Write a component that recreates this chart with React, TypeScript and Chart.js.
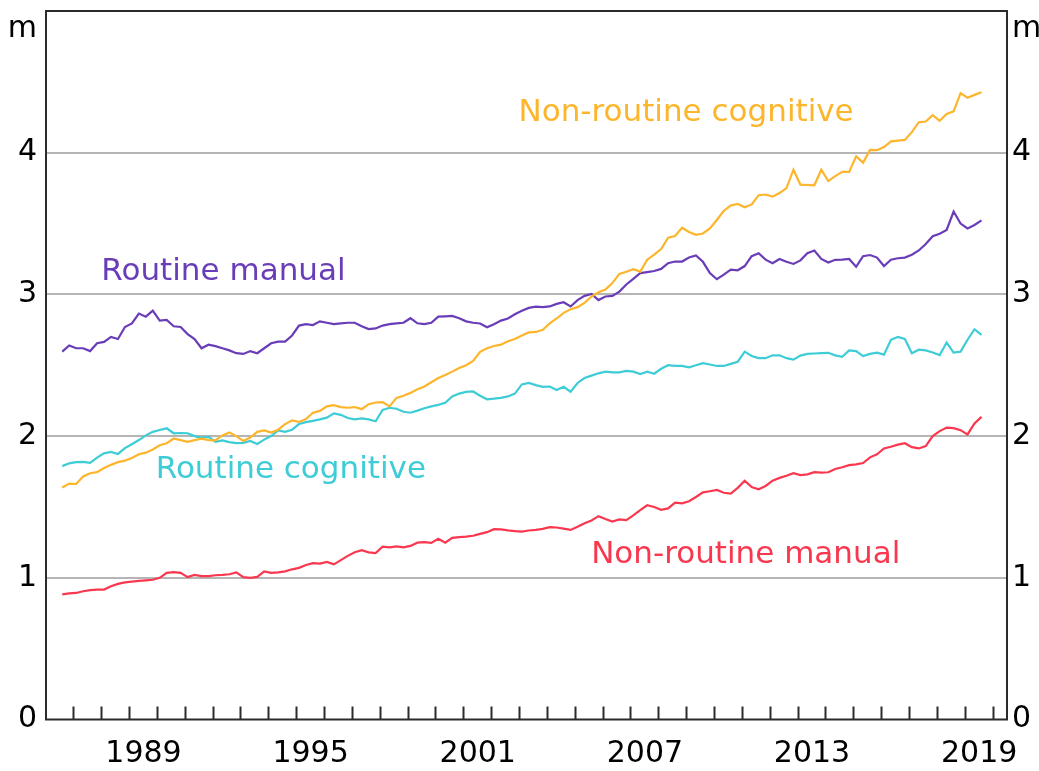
import React, { useEffect, useRef } from 'react';
import { Chart, registerables } from 'chart.js';

Chart.register(...registerables);

// Quarterly observations, first one in August 1986
const FIRST_YEAR = 1986;
const FIRST_MONTH = 8;

// Employment, millions
const nonRoutineCognitive = [
  1.637, 1.665, 1.662, 1.715, 1.738, 1.746, 1.775, 1.797, 1.816, 1.827,
  1.845, 1.872, 1.883, 1.905, 1.935, 1.95, 1.983, 1.972, 1.96, 1.972,
  1.982, 1.972, 1.97, 2.005, 2.025, 2.0, 1.965, 1.99, 2.03, 2.04,
  2.025, 2.045, 2.085, 2.11, 2.1, 2.12, 2.165, 2.178, 2.21, 2.218,
  2.205, 2.2, 2.205, 2.19, 2.225, 2.237, 2.24, 2.21, 2.27, 2.285,
  2.305, 2.33, 2.35, 2.38, 2.41, 2.432, 2.455, 2.48, 2.5, 2.53,
  2.595, 2.62, 2.636, 2.645, 2.67, 2.685, 2.71, 2.732, 2.735, 2.75,
  2.795, 2.83, 2.87, 2.895, 2.91, 2.94, 2.985, 3.015, 3.035, 3.08,
  3.145, 3.16, 3.178, 3.161, 3.245, 3.28, 3.32, 3.4, 3.412, 3.47,
  3.44, 3.42, 3.43, 3.465, 3.525, 3.59, 3.628, 3.638, 3.615, 3.635,
  3.7, 3.705, 3.69, 3.715, 3.75, 3.88, 3.775, 3.772, 3.77, 3.88,
  3.8, 3.835, 3.865, 3.865, 3.975, 3.93, 4.02, 4.018, 4.04, 4.08,
  4.085, 4.09, 4.145, 4.215, 4.22, 4.265, 4.225, 4.274, 4.292, 4.42,
  4.388, 4.408, 4.426,
];

const routineManual = [
  2.596, 2.64, 2.62, 2.62, 2.6, 2.655, 2.665, 2.7, 2.685, 2.77,
  2.795, 2.865, 2.843, 2.885, 2.815, 2.82, 2.775, 2.77, 2.72, 2.685,
  2.62, 2.645, 2.635, 2.62, 2.605, 2.585, 2.58, 2.6, 2.585, 2.62,
  2.655, 2.667, 2.667, 2.71, 2.78, 2.79, 2.784, 2.81, 2.8, 2.79,
  2.795, 2.8, 2.8, 2.775, 2.755, 2.76, 2.78, 2.79, 2.796, 2.8,
  2.832, 2.796, 2.79, 2.8, 2.843, 2.845, 2.848, 2.832, 2.81, 2.8,
  2.795, 2.768, 2.79, 2.815, 2.83, 2.86, 2.885, 2.905, 2.914, 2.91,
  2.915, 2.933, 2.945, 2.915, 2.96, 2.99, 3.003, 2.96, 2.985, 2.99,
  3.02, 3.07, 3.11, 3.15, 3.157, 3.165, 3.18, 3.22, 3.232, 3.232,
  3.26, 3.275, 3.23, 3.15, 3.107, 3.14, 3.175, 3.17, 3.2, 3.27,
  3.29, 3.245, 3.22, 3.25, 3.23, 3.215, 3.24, 3.29, 3.31, 3.25,
  3.225, 3.244, 3.245, 3.25, 3.195, 3.27, 3.278, 3.26, 3.2, 3.245,
  3.255, 3.26, 3.28, 3.31, 3.355, 3.41, 3.428, 3.455, 3.585, 3.5,
  3.465, 3.49, 3.522,
];

const routineCognitive = [
  1.788, 1.808, 1.816, 1.818, 1.811, 1.848, 1.878, 1.889, 1.874, 1.915,
  1.943, 1.972, 2.005, 2.03, 2.043, 2.055, 2.02, 2.022, 2.02, 2.0,
  1.99, 1.995, 1.96, 1.97, 1.958, 1.95, 1.952, 1.966, 1.945, 1.975,
  2.0, 2.04, 2.03, 2.045, 2.085, 2.099, 2.108, 2.118, 2.13, 2.16,
  2.15, 2.128, 2.118, 2.125, 2.118, 2.105, 2.185, 2.2, 2.193, 2.172,
  2.165, 2.18, 2.197, 2.21, 2.22, 2.235, 2.28, 2.3, 2.312, 2.315,
  2.285, 2.26, 2.264, 2.27, 2.28, 2.3, 2.365, 2.375, 2.36, 2.347,
  2.35, 2.325, 2.348, 2.313, 2.375, 2.41, 2.427, 2.443, 2.455, 2.45,
  2.45, 2.46, 2.455, 2.438, 2.454, 2.44, 2.475, 2.5, 2.495, 2.495,
  2.485, 2.5, 2.515, 2.505, 2.495, 2.495, 2.51, 2.525, 2.596, 2.565,
  2.55, 2.55, 2.57, 2.57, 2.55, 2.54, 2.568, 2.58, 2.583, 2.585,
  2.588, 2.57, 2.56, 2.605, 2.6, 2.565, 2.58, 2.589, 2.575, 2.68,
  2.7, 2.685, 2.584, 2.61, 2.605, 2.59, 2.572, 2.66, 2.589, 2.596,
  2.68, 2.754, 2.714,
];

const nonRoutineManual = [
  0.883, 0.89, 0.893, 0.905, 0.913, 0.917, 0.917, 0.94, 0.957, 0.968,
  0.973, 0.978, 0.982, 0.986, 1.0, 1.035, 1.04, 1.035, 1.005, 1.02,
  1.012, 1.012, 1.018, 1.02, 1.025, 1.038, 1.005, 1.0, 1.006, 1.045,
  1.035, 1.038, 1.045, 1.06, 1.07, 1.09, 1.103, 1.1, 1.112, 1.095,
  1.125, 1.155, 1.18, 1.195, 1.18, 1.175, 1.22, 1.215, 1.222, 1.215,
  1.225, 1.248, 1.252, 1.246, 1.275, 1.248, 1.282, 1.287, 1.29, 1.297,
  1.31, 1.322, 1.343, 1.342, 1.335, 1.33, 1.326, 1.334, 1.338, 1.345,
  1.358, 1.355, 1.347, 1.338, 1.36, 1.385, 1.405, 1.435, 1.415, 1.397,
  1.412, 1.407, 1.44, 1.477, 1.512, 1.5, 1.48, 1.49, 1.53, 1.525,
  1.54, 1.57, 1.603, 1.611, 1.62, 1.6, 1.595, 1.635, 1.685, 1.64,
  1.625, 1.648, 1.685, 1.705, 1.72, 1.738, 1.725, 1.73, 1.745, 1.742,
  1.745, 1.768, 1.78, 1.795, 1.8, 1.81, 1.85, 1.872, 1.913, 1.925,
  1.94, 1.95, 1.922, 1.913, 1.93, 2.0, 2.035, 2.06, 2.056, 2.042,
  2.012, 2.09, 2.136,
];

// Dates (decimal years) for each quarterly observation
const quarterDates = nonRoutineCognitive.map(
  (_, i) => FIRST_YEAR + (FIRST_MONTH - 1) / 12 + i / 4
);

// x axis: tick marks at year boundaries, labels centred on the year
const X_MIN = 1986;
const X_MAX = 2020.5;
const yearTickMarks = [
  1987, 1988, 1989, 1990, 1991, 1992, 1993, 1994, 1995, 1996, 1997, 1998,
  1999, 2000, 2001, 2002, 2003, 2004, 2005, 2006, 2007, 2008, 2009, 2010,
  2011, 2012, 2013, 2014, 2015, 2016, 2017, 2018, 2019, 2020,
];
const yearLabels = [1989, 1995, 2001, 2007, 2013, 2019];

// y axis
const Y_MIN = 0;
const Y_MAX = 5;
const yTickValues = [0, 1, 2, 3, 4, 5];
const unitLabel = 'm';

const seriesNames = [
  'Non-routine cognitive',
  'Routine manual',
  'Routine cognitive',
  'Non-routine manual',
];
const seriesValues = [nonRoutineCognitive, routineManual, routineCognitive, nonRoutineManual];
const seriesColors = ['#FDB52B', '#6A3DB8', '#3ECCD6', '#F9384F'];
// where each series name sits, in data units (year, millions)
const labelAnchorYears = [2008.98, 1992.37, 1994.79, 2011.12];
const labelAnchorValues = [4.28, 3.16, 1.76, 1.16];

const FONT_FAMILY = '"DejaVu Sans", Verdana, sans-serif';

const isYearBoundary = (v: number) => Math.abs(v - Math.round(v)) < 1e-6;

const frameAndLabels = {
  id: 'frameAndLabels',
  afterDatasetsDraw(chart: any) {
    const { ctx, chartArea, scales } = chart;
    ctx.save();
    ctx.strokeStyle = '#2b2b2b';
    ctx.lineWidth = 2;
    ctx.strokeRect(
      chartArea.left,
      chartArea.top,
      chartArea.right - chartArea.left,
      chartArea.bottom - chartArea.top
    );
    ctx.font = `31px ${FONT_FAMILY}`;
    ctx.textAlign = 'center';
    ctx.textBaseline = 'middle';
    seriesNames.forEach((name, i) => {
      ctx.fillStyle = seriesColors[i];
      ctx.fillText(
        name,
        scales.x.getPixelForValue(labelAnchorYears[i]),
        scales.y.getPixelForValue(labelAnchorValues[i])
      );
    });
    ctx.restore();
  },
};

export default function App() {
  const canvasRef = useRef<HTMLCanvasElement | null>(null);

  useEffect(() => {
    const canvas = canvasRef.current;
    if (!canvas) return;

    const datasets = seriesNames.map((name, i) => ({
      label: name,
      data: seriesValues[i].map((v, j) => ({ x: quarterDates[j], y: v })),
      borderColor: seriesColors[i],
      backgroundColor: seriesColors[i],
      borderWidth: 2.2,
      pointRadius: 0,
      tension: 0,
      fill: false,
    }));

    const chart = new Chart(canvas, {
      type: 'line',
      data: { datasets },
      plugins: [frameAndLabels],
      options: {
        responsive: false,
        animation: false,
        devicePixelRatio: 1,
        layout: { padding: { top: 11, left: 0, right: 0, bottom: 0 } },
        plugins: {
          legend: { display: false },
          title: { display: false },
          tooltip: { enabled: false },
        },
        scales: {
          x: {
            type: 'linear',
            position: 'bottom',
            min: X_MIN,
            max: X_MAX,
            afterBuildTicks: (scale: any) => {
              const vals = [...yearTickMarks, ...yearLabels.map((y) => y + 0.5)].sort(
                (a, b) => a - b
              );
              scale.ticks = vals.map((v) => ({ value: v }));
            },
            afterFit: (scale: any) => {
              scale.height = 51.5;
              scale.paddingLeft = 0;
              scale.paddingRight = 0;
            },
            ticks: {
              autoSkip: false,
              maxRotation: 0,
              minRotation: 0,
              padding: 30,
              color: '#000',
              font: { family: FONT_FAMILY, size: 30 },
              callback: (value: any) =>
                isYearBoundary(Number(value)) ? '' : String(Math.floor(Number(value))),
            },
            grid: {
              drawOnChartArea: false,
              drawTicks: true,
              tickLength: -13,
              tickWidth: 2,
              color: '#2b2b2b',
              tickColor: (ctx: any) =>
                ctx.tick && isYearBoundary(ctx.tick.value) ? '#2b2b2b' : 'rgba(0,0,0,0)',
            },
            border: { display: false },
          },
          y: {
            type: 'linear',
            position: 'left',
            min: Y_MIN,
            max: Y_MAX,
            afterBuildTicks: (scale: any) => {
              scale.ticks = yTickValues.map((v) => ({ value: v }));
            },
            afterFit: (scale: any) => {
              scale.width = 46;
              scale.paddingTop = 0;
              scale.paddingBottom = 0;
            },
            ticks: {
              padding: 9,
              color: '#000',
              font: { family: FONT_FAMILY, size: 30, lineHeight: 1.2 },
              callback: (value: any) =>
                Number(value) === Y_MAX ? ['', unitLabel] : String(value),
            },
            grid: {
              drawTicks: false,
              lineWidth: 2,
              color: (ctx: any) =>
                ctx.tick && (ctx.tick.value === Y_MIN || ctx.tick.value === Y_MAX)
                  ? 'rgba(0,0,0,0)'
                  : '#b5b5b5',
            },
            border: { display: false },
          },
          y2: {
            type: 'linear',
            position: 'right',
            min: Y_MIN,
            max: Y_MAX,
            afterBuildTicks: (scale: any) => {
              scale.ticks = yTickValues.map((v) => ({ value: v }));
            },
            afterFit: (scale: any) => {
              scale.width = 32;
              scale.paddingTop = 0;
              scale.paddingBottom = 0;
            },
            ticks: {
              padding: 5,
              color: '#000',
              font: { family: FONT_FAMILY, size: 30, lineHeight: 1.2 },
              callback: (value: any) =>
                Number(value) === Y_MAX ? ['', unitLabel] : String(value),
            },
            grid: { drawOnChartArea: false, drawTicks: false },
            border: { display: false },
          },
        },
      } as any,
    });

    return () => {
      chart.destroy();
    };
  }, []);

  return (
    <div
      style={{
        position: 'fixed',
        left: 0,
        top: 0,
        width: 1039,
        height: 771,
        background: '#ffffff',
      }}
    >
      <canvas ref={canvasRef} width={1039} height={771} />
    </div>
  );
}
